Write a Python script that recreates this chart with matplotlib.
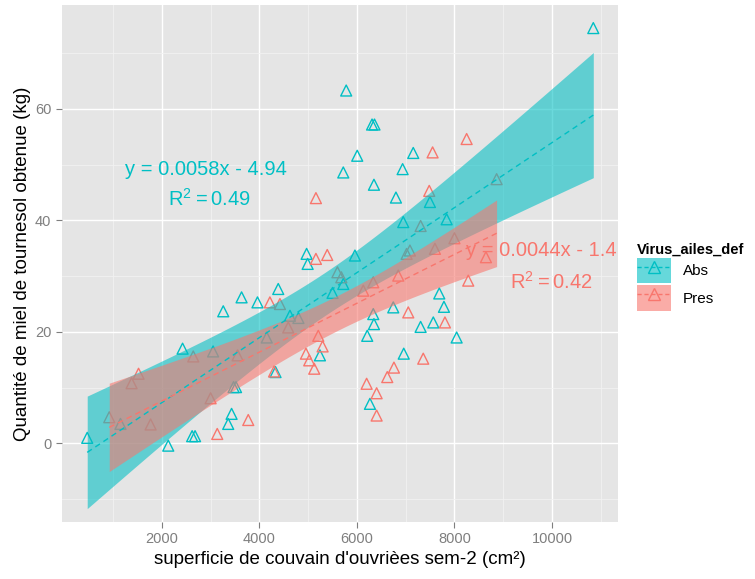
import numpy as np
import matplotlib
matplotlib.use('Agg')
import matplotlib.pyplot as plt
from matplotlib.lines import Line2D
from matplotlib.patches import Patch

plt.rcParams['font.family'] = ['Liberation Sans', 'DejaVu Sans']

# group "Abs" (a few points sit hidden under the cyan band)
abs_x = [468, 1150, 2130, 2424, 2620, 2680, 3050, 3258, 3360, 3429, 3470, 3520,
         3634, 3960, 4150, 4330, 4386, 4626, 4800, 4968, 4989, 5241, 5500, 5720,
         5780, 5720, 5959, 6006, 6211, 6267, 6310, 6360, 6335, 6349, 6349, 6745,
         6800, 6937, 6950, 6960, 7155, 7306, 7497, 7566, 7689, 7785, 7840, 8045,
         10848]
abs_y = [1.0, 3.5, -0.4, 17.0, 1.3, 1.3, 16.5, 23.7, 3.5, 5.3, 10.1, 10.1,
         26.2, 25.3, 19.0, 12.8, 27.7, 22.9, 22.5, 34.0, 32.2, 15.8, 27.0, 28.6,
         63.3, 48.6, 33.7, 51.6, 19.3, 7.1, 57.2, 57.2, 23.2, 21.4, 46.4, 24.4,
         44.1, 49.2, 39.7, 16.1, 52.1, 20.9, 43.3, 21.7, 26.9, 24.5, 40.2, 19.0,
         74.5]

# group "Pres"
pres_x = [920, 1378, 1521, 1768, 2643, 2999, 3135, 3552, 3771, 4215, 4300, 4421,
          4591, 4954, 5022, 5124, 5159, 5159, 5207, 5296, 5391, 5600, 5680, 6130,
          6199, 6335, 6404, 6404, 6622, 6759, 6848, 7019, 7053, 7087, 7306, 7360,
          7483, 7552, 7600, 7805, 8000, 8250, 8283, 8646, 8865]
pres_y = [4.7, 10.8, 12.5, 3.4, 15.6, 8.1, 1.7, 15.8, 4.2, 25.3, 12.9, 25.0,
          20.8, 16.1, 14.9, 13.4, 33.1, 44.0, 19.3, 17.4, 33.8, 30.7, 29.8, 27.4,
          10.7, 28.9, 9.0, 5.0, 11.9, 13.6, 30.1, 34.0, 23.5, 34.6, 39.0, 15.2,
          45.3, 52.2, 34.9, 21.7, 36.8, 54.6, 29.2, 33.4, 47.4]

groups = ['Abs', 'Pres']
colors = {'Abs': '#00BFC4', 'Pres': '#F8766D'}
eq_text = {'Abs': ('y = 0.0058x - 4.94', '$\\mathregular{R^2 = 0.49}$'),
           'Pres': ('y = 0.0044x - 1.4', '$\\mathregular{R^2 = 0.42}$')}
eq_pos = {'Abs': ((2905, 49.2), (2985, 43.9)),
          'Pres': ((9775, 34.6), (9985, 28.9))}


def lm_band(x, y, n_pts=80, t=2.01):
    x = np.asarray(x, float)
    y = np.asarray(y, float)
    b, a = np.polyfit(x, y, 1)
    n = len(x)
    res = y - (a + b * x)
    s = np.sqrt(np.sum(res ** 2) / (n - 2))
    sxx = np.sum((x - x.mean()) ** 2)
    xs = np.linspace(x.min(), x.max(), n_pts)
    fit = a + b * xs
    se = s * np.sqrt(1.0 / n + (xs - x.mean()) ** 2 / sxx)
    return xs, fit, fit - t * se, fit + t * se


fig = plt.figure(figsize=(7.55, 5.79), dpi=100)
ax = fig.add_axes([0.082, 0.0984, 0.7365, 0.8926])
ax.set_facecolor('#E5E5E5')

data = {'Abs': (abs_x, abs_y), 'Pres': (pres_x, pres_y)}

for g in groups:
    x, y = data[g]
    ax.scatter(x, y, marker='^', s=62, facecolors='none',
               edgecolors=colors[g], linewidths=1.0, zorder=3)

for g in groups:
    x, y = data[g]
    xs, fit, lo, hi = lm_band(x, y)
    ax.fill_between(xs, lo, hi, color=colors[g], alpha=0.58, lw=0, zorder=4)
    ax.plot(xs, fit, color=colors[g], lw=1.0, ls=(0, (4, 3)), zorder=5)

for g in groups:
    (x1, y1), (x2, y2) = eq_pos[g]
    ax.text(x1, y1, eq_text[g][0], color=colors[g], fontsize=14.5,
            ha='center', va='center', zorder=6, clip_on=True)
    ax.text(x2, y2, eq_text[g][1], color=colors[g], fontsize=14.5,
            ha='center', va='center', zorder=6, clip_on=True)

ax.set_xlim(-51, 11354)
ax.set_ylim(-14.1, 78.6)
ax.set_xticks([2000, 4000, 6000, 8000, 10000])
ax.set_yticks([0, 20, 40, 60])
ax.set_xticks([1000, 3000, 5000, 7000, 9000, 11000], minor=True)
ax.set_yticks([-10, 10, 30, 50, 70], minor=True)
ax.grid(which='major', color='white', lw=1.0)
ax.grid(which='minor', color='#F2F2F2', lw=0.6)
ax.set_axisbelow(True)
for sp in ax.spines.values():
    sp.set_visible(False)
ax.tick_params(which='major', colors='#7F7F7F', labelsize=10.5, length=4, width=0.8)
ax.tick_params(which='minor', length=0)

ax.set_xlabel("superficie de couvain d'ouvrièes sem-2 (cm²)", fontsize=13.5, labelpad=3)
ax.set_ylabel('Quantité de miel de tournesol obtenue (kg)', fontsize=13.5, labelpad=3)

handles = []
for g in groups:
    handles.append((Patch(facecolor=colors[g], alpha=0.6, lw=0),
                    Line2D([], [], color=colors[g], lw=1.0, ls=(0, (3, 2)),
                           marker='^', markerfacecolor='none', markersize=8)))
leg = fig.legend(handles, groups, loc='upper left', bbox_to_anchor=(0.83, 0.6),
                 title='Virus_ailes_def', frameon=False, fontsize=11,
                 title_fontsize=10.5, handlelength=2.2, handleheight=2.2,
                 labelspacing=0.1, alignment='left', borderpad=0.2)
leg.get_title().set_fontweight('bold')

fig.savefig('out.png', dpi=100)
